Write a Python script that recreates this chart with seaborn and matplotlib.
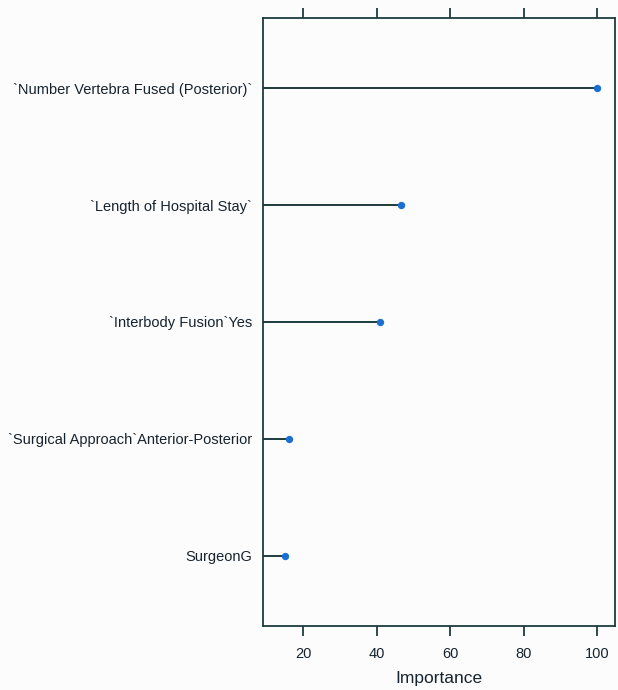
import matplotlib
matplotlib.use("Agg")
import matplotlib.pyplot as plt
import seaborn as sns
import pandas as pd

features = [
    "`Number Vertebra Fused (Posterior)`",
    "`Length of Hospital Stay`",
    "`Interbody Fusion`Yes",
    "`Surgical Approach`Anterior-Posterior",
    "SurgeonG",
]
importance = [100.0, 46.7, 41.0, 16.3, 15.0]
xticks = [20, 40, 60, 80, 100]

sns.set_theme(style="white")
plt.rcParams["font.family"] = ["Liberation Sans", "DejaVu Sans"]

line_col = "#1e3c3c"
pt_col = "#1a6fd0"
text_col = "#16232e"

df = pd.DataFrame({"feature": features, "importance": importance})
df["pos"] = range(len(features))

fig = plt.figure(figsize=(6.18, 6.9), dpi=100)
fig.patch.set_facecolor("#fcfcfd")
ax = fig.add_axes([263 / 618, 1 - 626 / 690, (615 - 263) / 618, (626 - 18) / 690])
ax.set_facecolor("#fcfcfd")

xmin, xmax = 9.1, 104.9
ax.hlines(df["pos"], xmin, df["importance"], color=line_col, linewidth=1.4, zorder=2)
sns.scatterplot(data=df, x="importance", y="pos", color=pt_col, s=28,
                edgecolor=pt_col, linewidth=0, ax=ax, zorder=3)

ax.set_xlim(xmin, xmax)
ax.set_ylim(len(features) - 1 + 0.6, -0.6)
ax.set_yticks(df["pos"])
ax.set_yticklabels(features, fontsize=10.5, color=text_col)
ax.set_xticks(xticks)
ax.set_xticklabels([str(t) for t in xticks], fontsize=10.5, color=text_col)
ax.tick_params(axis="x", which="both", top=True, bottom=True, direction="out",
               length=7, width=1.3, color=line_col, pad=8)
ax.tick_params(axis="y", length=0, pad=8)
ax.set_xlabel("Importance", fontsize=12.5, color=text_col, labelpad=7)
ax.set_ylabel("")
for sp in ax.spines.values():
    sp.set_visible(True)
    sp.set_color(line_col)
    sp.set_linewidth(1.3)

fig.savefig("out.png", dpi=100, facecolor=fig.get_facecolor())
